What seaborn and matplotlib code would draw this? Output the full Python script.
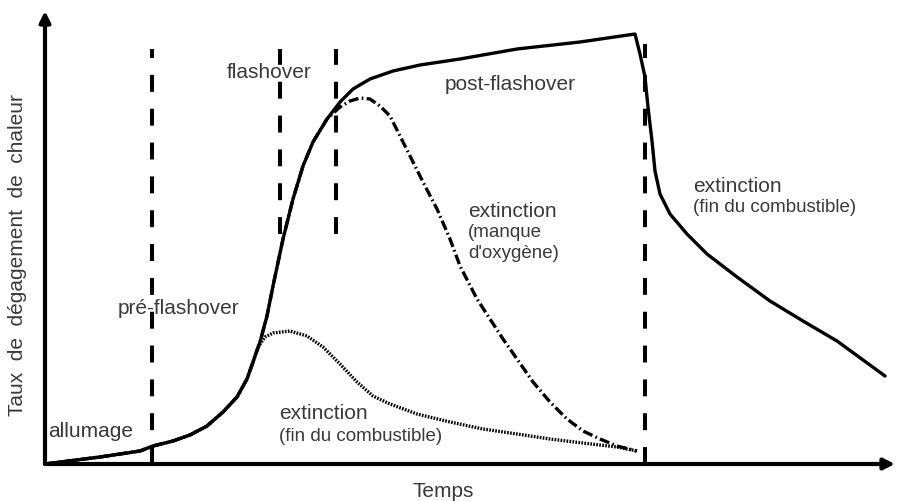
import numpy as np
import pandas as pd
import matplotlib
matplotlib.use("Agg")
import matplotlib.pyplot as plt
import seaborn as sns

# courbe principale (temps, taux de degagement de chaleur), unites arbitraires
temps_principal = [0, 55, 95, 108, 128, 145, 162, 178, 192, 202, 208, 215, 222, 228, 238,
                   248, 258, 268, 282, 295, 308, 325, 348, 375, 415, 472, 535, 590,
                   595, 600, 603, 607, 610, 615, 625, 642, 662, 692, 725, 758, 792, 840]
taux_principal = [0, 7, 13, 18, 23, 29, 38, 52, 67, 85, 102, 122, 148, 178, 225,
                  265, 298, 322, 345, 362, 375, 385, 393, 399, 405, 415, 422, 430,
                  410, 387, 357, 323, 293, 270, 250, 230, 210, 187, 163, 143, 123, 88]

# extinction par manque d'oxygene
temps_oxygene = [0, 55, 95, 108, 128, 145, 162, 178, 192, 202, 208, 215, 222, 228, 238,
                 248, 258, 268, 282, 295, 305, 315, 325, 335, 345, 355, 365, 378, 392,
                 405, 415, 432, 445, 458, 472, 488, 505, 522, 538, 555, 572, 592]
taux_oxygene = [0, 7, 13, 18, 23, 29, 38, 52, 67, 85, 102, 122, 148, 178, 225,
                265, 298, 322, 345, 357, 363, 366, 365, 358, 348, 328, 308, 282, 255,
                225, 198, 165, 145, 125, 105, 82, 62, 45, 33, 25, 18, 13]

# extinction par fin du combustible (avant flashover)
temps_combustible = [0, 55, 95, 108, 128, 145, 162, 178, 192, 202, 208, 213, 220, 228,
                     245, 262, 278, 295, 312, 328, 345, 372, 405, 438, 472, 505, 538, 572, 592]
taux_combustible = [0, 7, 13, 18, 23, 29, 38, 52, 67, 85, 102, 117, 127, 131,
                    133, 128, 117, 100, 82, 68, 60, 50, 42, 35, 30, 25, 21, 17, 13]

# limites des phases
phases_x = [107, 235, 291, 600]
phases_haut = [415, 415, 415, 420]
phases_bas = [0, 230, 230, 0]

principal = pd.DataFrame({"temps": temps_principal, "taux": taux_principal})
oxygene = pd.DataFrame({"temps": temps_oxygene, "taux": taux_oxygene})
combustible = pd.DataFrame({"temps": temps_combustible, "taux": taux_combustible})

sns.set_style("white")
plt.rcParams["font.family"] = ["Liberation Sans", "DejaVu Sans"]
gris = "#3a3a3a"

fig = plt.figure(figsize=(8.98, 5.02), dpi=100)
ax = fig.add_axes([45 / 898, 37 / 502, 850 / 898, 453 / 502])
ax.set_xlim(0, 850)
ax.set_ylim(0, 453)
ax.axis("off")

for x, y0, y1 in zip(phases_x, phases_bas, phases_haut):
    ax.plot([x, x], [y0, y1], color="black", lw=2.9, dashes=(4.2, 4.2),
            solid_capstyle="butt", dash_capstyle="butt")

sns.lineplot(data=combustible, x="temps", y="taux", ax=ax, color="black", lw=2.4,
             sort=False, estimator=None)
ax.lines[-1].set_dashes((0.5, 0.4))
sns.lineplot(data=oxygene, x="temps", y="taux", ax=ax, color="black", lw=2.4,
             sort=False, estimator=None)
ax.lines[-1].set_dashes((3.0, 1.0, 0.5, 1.0))
sns.lineplot(data=principal, x="temps", y="taux", ax=ax, color="black", lw=2.4,
             sort=False, estimator=None)
ax.lines[-1].set_solid_joinstyle("round")

# axes avec fleches
arrow = dict(arrowstyle="-|>", lw=3, color="black", mutation_scale=16, shrinkA=0, shrinkB=0)
ax.annotate("", xy=(0, 1.0), xytext=(0, 0), xycoords="axes fraction", arrowprops=arrow)
ax.annotate("", xy=(1.0, 0), xytext=(0, 0), xycoords="axes fraction", arrowprops=arrow)

fs = 15
fs2 = 13.5
ax.text(3, 33, "allumage", fontsize=fs, color=gris, va="center")
ax.text(73, 156, "pré-flashover", fontsize=fs, color=gris, va="center")
ax.text(182, 392, "flashover", fontsize=fs, color=gris, va="center")
ax.text(400, 380, "post-flashover", fontsize=fs, color=gris, va="center")
ax.text(423, 253, "extinction", fontsize=fs, color=gris, va="center")
ax.text(423, 232, "(manque", fontsize=fs2, color=gris, va="center")
ax.text(423, 212, "d'oxygène)", fontsize=fs2, color=gris, va="center")
ax.text(234, 51, "extinction", fontsize=fs, color=gris, va="center")
ax.text(234, 28, "(fin du combustible)", fontsize=fs2, color=gris, va="center")
ax.text(648, 279, "extinction", fontsize=fs, color=gris, va="center")
ax.text(648, 258, "(fin du combustible)", fontsize=fs2, color=gris, va="center")

fig.text(443 / 898, 1 - 492 / 502, "Temps", fontsize=15, color=gris, ha="center", va="center")
fig.text(18 / 898, 1 - 255 / 502, "Taux  de  dégagement  de  chaleur", fontsize=15, color=gris,
         ha="center", va="center", rotation=90)

fig.savefig("out.png", dpi=100)
